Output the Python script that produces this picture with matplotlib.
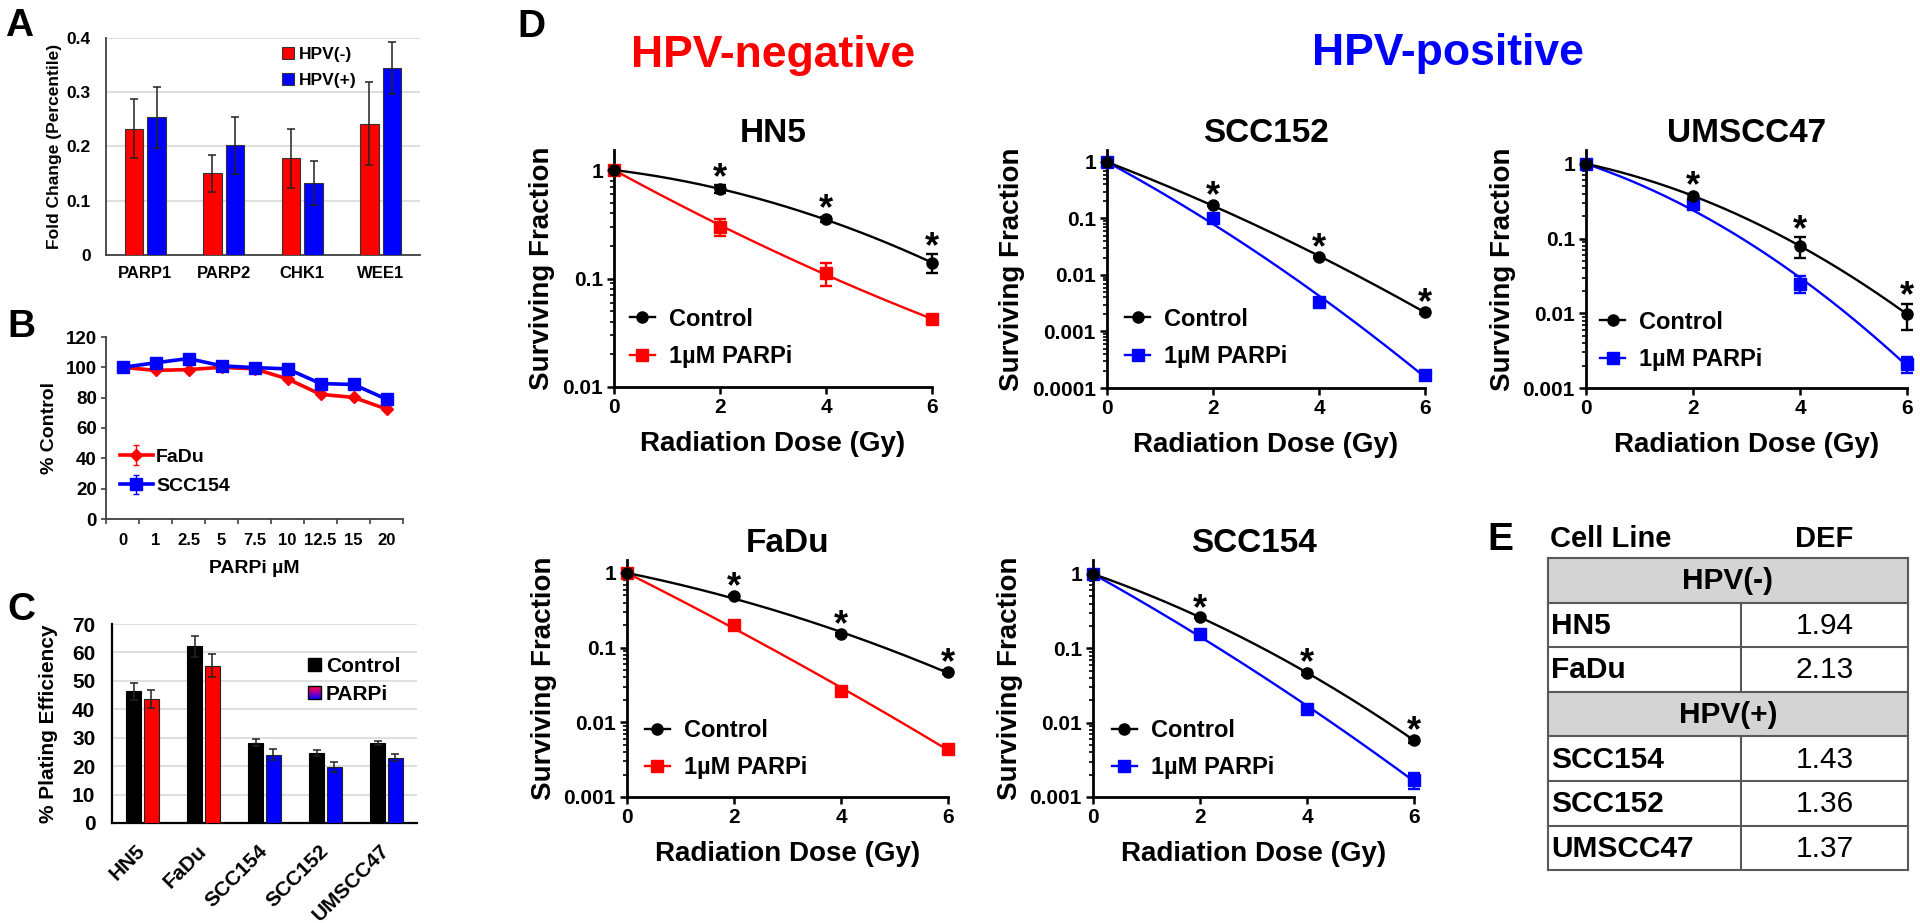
import numpy as np
import matplotlib
matplotlib.use("Agg")
import matplotlib.pyplot as plt
from matplotlib.patches import Rectangle, Patch
from matplotlib.legend_handler import HandlerBase
from matplotlib.lines import Line2D
from matplotlib.ticker import LogLocator, FuncFormatter, NullFormatter

plt.rcParams['font.family'] = ['Liberation Sans', 'DejaVu Sans']
plt.rcParams['font.weight'] = 'bold'
plt.rcParams['axes.labelweight'] = 'bold'

# ---------------- data ----------------
# Panel A
a_genes = ["PARP1", "PARP2", "CHK1", "WEE1"]
a_neg = [0.233, 0.151, 0.178, 0.242]
a_neg_err = [0.055, 0.034, 0.054, 0.077]
a_pos = [0.254, 0.202, 0.133, 0.345]
a_pos_err = [0.056, 0.052, 0.040, 0.048]

# Panel B
b_conc = ["0", "1", "2.5", "5", "7.5", "10", "12.5", "15", "20"]
b_fadu = [100, 98, 98.5, 100, 99, 92.4, 82.2, 80.2, 72.5]
b_fadu_err = [0.5, 1.0, 2.0, 1.0, 1.0, 1.0, 1.0, 1.0, 1.0]
b_scc154 = [100, 103, 105.8, 101, 99.8, 99.0, 89.3, 88.7, 79.0]
b_scc154_err = [0.5, 1.0, 1.0, 1.0, 1.0, 1.0, 1.0, 1.0, 1.0]

# Panel C
c_lines = ["HN5", "FaDu", "SCC154", "SCC152", "UMSCC47"]
c_ctrl = [46.3, 62.2, 28.3, 24.7, 28.1]
c_ctrl_err = [3.0, 3.7, 1.2, 1.0, 0.8]
c_parp = [43.5, 55.4, 24.0, 19.7, 23.0]
c_parp_err = [3.2, 4.0, 2.0, 1.6, 1.2]
c_hpv_neg = [True, True, False, False, False]

# Panel D (surviving fraction)
dose = [0, 2, 4, 6]
hn5_ctrl = [1.0, 0.667, 0.350, 0.140]
hn5_ctrl_err = [0.0, 0.055, 0.020, 0.028]
hn5_parp = [1.0, 0.300, 0.112, 0.042]
hn5_parp_err = [0.0, 0.055, 0.027, 0.002]
scc152_ctrl = [1.0, 0.174, 0.021, 0.0022]
scc152_ctrl_err = [0.0, 0.008, 0.001, 0.0002]
scc152_parp = [1.0, 0.104, 0.0033, 0.00017]
scc152_parp_err = [0.0, 0.005, 0.0003, 0.00003]
um47_ctrl = [1.0, 0.370, 0.080, 0.0097]
um47_ctrl_err = [0.0, 0.030, 0.025, 0.0038]
um47_parp = [1.0, 0.286, 0.025, 0.0021]
um47_parp_err = [0.0, 0.020, 0.0065, 0.0005]
fadu_ctrl = [1.0, 0.490, 0.150, 0.047]
fadu_ctrl_err = [0.0, 0.020, 0.008, 0.003]
fadu_parp = [1.0, 0.200, 0.0264, 0.0044]
fadu_parp_err = [0.0, 0.010, 0.0015, 0.0003]
scc154_ctrl = [1.0, 0.262, 0.0469, 0.0058]
scc154_ctrl_err = [0.0, 0.010, 0.003, 0.0004]
scc154_parp = [1.0, 0.157, 0.0154, 0.00168]
scc154_parp_err = [0.0, 0.010, 0.001, 0.0004]

# Panel E
e_groups = ["HPV(-)", "HPV(+)"]
e_neg_lines = ["HN5", "FaDu"]
e_neg_def = ["1.94", "2.13"]
e_pos_lines = ["SCC154", "SCC152", "UMSCC47"]
e_pos_def = ["1.43", "1.36", "1.37"]

RED = '#ff0000'
BLUE = '#0000ff'

W, H = 1920, 923
fig = plt.figure(figsize=(W / 100, H / 100), dpi=100)


def add_ax(l, t, r, b):
    return fig.add_axes([l / W, 1 - b / H, (r - l) / W, (b - t) / H])


ov = fig.add_axes([0, 0, 1, 1], zorder=-5)
ov.set_xlim(0, W)
ov.set_ylim(H, 0)
ov.axis('off')


class GradHandler(HandlerBase):
    def create_artists(self, legend, orig_handle, xdescent, ydescent,
                       width, height, fontsize, trans):
        n = 12
        top = np.array([1.0, 0.0, 0.3])
        bot = np.array([0.1, 0.0, 1.0])
        arts = []
        for i in range(n):
            t = i / (n - 1)
            c = (1 - t) * bot + t * top
            arts.append(Rectangle((-xdescent, -ydescent + i * height / n), width,
                                  height / n, facecolor=c, edgecolor='none',
                                  transform=trans))
        arts.append(Rectangle((-xdescent, -ydescent), width, height, fill=False,
                              edgecolor='black', lw=1.0, transform=trans))
        return arts


def style_bar_axes(ax):
    for s in ['top', 'right']:
        ax.spines[s].set_visible(False)
    for s in ['left', 'bottom']:
        ax.spines[s].set_color('#404040')
        ax.spines[s].set_linewidth(1.3)
    ax.yaxis.grid(True, color='#d9d9d9', lw=1.2)
    ax.set_axisbelow(True)


# ---------------- Panel A ----------------
axA = add_ax(106, 38, 420, 255)
xa = np.arange(len(a_genes))
ekw = dict(ecolor='#222222', elinewidth=1.1, capsize=3, capthick=1.1)
axA.bar(xa - 0.145, a_neg, 0.235, yerr=a_neg_err, color=RED, edgecolor='#333333',
        linewidth=0.8, error_kw=ekw, label='HPV(-)', zorder=3)
axA.bar(xa + 0.145, a_pos, 0.235, yerr=a_pos_err, color=BLUE, edgecolor='#333333',
        linewidth=0.8, error_kw=ekw, label='HPV(+)', zorder=3)
axA.set_xlim(-0.5, len(a_genes) - 0.5)
axA.set_ylim(0, 0.4)
axA.set_yticks([0, 0.1, 0.2, 0.3, 0.4])
axA.set_yticklabels(['0', '0.1', '0.2', '0.3', '0.4'])
axA.set_xticks(xa)
axA.set_xticklabels(a_genes)
style_bar_axes(axA)
axA.tick_params(axis='both', length=0, labelsize=12)
axA.tick_params(axis='y', labelsize=12.5, pad=11)
axA.tick_params(axis='x', pad=8)
axA.set_ylabel('Fold Change (Percentile)', fontsize=12.5)
axA.yaxis.set_label_coords(-0.14, 0.5)
axA.legend(loc='upper left', bbox_to_anchor=(0.555, 0.965), frameon=False, fontsize=12.5,
           handlelength=0.7, handleheight=0.7, handletextpad=0.25,
           labelspacing=0.6, borderaxespad=0, borderpad=0.1)

# ---------------- Panel B ----------------
axB = add_ax(106, 337, 403, 519)
xb = np.arange(len(b_conc))
axB.errorbar(xb, b_fadu, yerr=b_fadu_err, color=RED, marker='D', ms=6.5, lw=2.6,
             capsize=2, elinewidth=1, label='FaDu', zorder=3)
axB.errorbar(xb, b_scc154, yerr=b_scc154_err, color=BLUE, marker='s', ms=8.5, lw=2.6,
             capsize=2, elinewidth=1, label='SCC154', zorder=4)
axB.set_xlim(-0.5, len(b_conc) - 0.5)
axB.set_ylim(0, 120)
axB.set_yticks(np.arange(0, 121, 20))
axB.set_xticks(np.arange(-0.5, len(b_conc), 1.0))
axB.set_xticklabels([])
axB.set_xticks(xb, minor=True)
axB.set_xticklabels(b_conc, minor=True)
for s in ['top', 'right']:
    axB.spines[s].set_visible(False)
for s in ['left', 'bottom']:
    axB.spines[s].set_color('#404040')
    axB.spines[s].set_linewidth(1.3)
axB.tick_params(axis='both', which='major', direction='out', length=3.5, width=1.2,
                color='#404040', labelsize=13.5)
axB.tick_params(axis='y', pad=3)
axB.tick_params(axis='x', which='minor', length=0, labelsize=12, pad=10)
axB.set_ylabel('% Control', fontsize=14)
axB.yaxis.set_label_coords(-0.162, 0.5)
axB.set_xlabel('PARPi µM', fontsize=14, labelpad=9)
axB.legend(loc='upper left', bbox_to_anchor=(0.047, 0.39), frameon=False, fontsize=14,
           handlelength=1.7, handletextpad=0.15, labelspacing=0.62,
           borderaxespad=0, borderpad=0)

# ---------------- Panel C ----------------
axC = add_ax(112, 624, 417, 823)
xc = np.arange(len(c_lines))
pcols = [RED if n else BLUE for n in c_hpv_neg]
axC.bar(xc - 0.14, c_ctrl, 0.245, yerr=c_ctrl_err, color='black', edgecolor='black',
        linewidth=0.8, error_kw=ekw, zorder=3)
axC.bar(xc + 0.14, c_parp, 0.245, yerr=c_parp_err, color=pcols, edgecolor='#222222',
        linewidth=0.8, error_kw=ekw, zorder=3)
axC.set_xlim(-0.5, len(c_lines) - 0.5)
axC.set_ylim(0, 70)
axC.set_yticks(np.arange(0, 71, 10))
axC.set_xticks(xc)
axC.set_xticklabels(c_lines, rotation=45, ha='right', va='center',
                    rotation_mode='anchor')
style_bar_axes(axC)
axC.spines['left'].set_color('black')
axC.spines['bottom'].set_color('black')
axC.spines['left'].set_linewidth(1.6)
axC.spines['bottom'].set_linewidth(1.6)
axC.tick_params(axis='both', length=0, labelsize=15)
axC.tick_params(axis='y', pad=12)
axC.tick_params(axis='x', pad=18)
axC.set_ylabel('% Plating Efficiency', fontsize=15)
axC.yaxis.set_label_coords(-0.177, 0.5)
h_ctrl = Patch(facecolor='black', edgecolor='black', label='Control')
h_parp = Patch(facecolor='purple', edgecolor='black', label='PARPi')
axC.legend(handles=[h_ctrl, h_parp], handler_map={h_parp: GradHandler()},
           loc='upper left', bbox_to_anchor=(0.643, 0.835), frameon=False,
           fontsize=15, handlelength=0.6, handleheight=0.6, handletextpad=0.25,
           labelspacing=0.45, borderaxespad=0, borderpad=0)


# ---------------- Panel D ----------------
def lq_curve(d, v, xx):
    d = np.asarray(d, float)
    A = np.vstack([d, d ** 2]).T
    coef = np.linalg.lstsq(A, np.log(np.asarray(v, float)), rcond=None)[0]
    return np.exp(coef[0] * xx + coef[1] * xx ** 2)


def sf_panel(box, title, ctrl, cerr, parp, perr, col, ymin, ymax, leg_xy):
    ax = add_ax(*box)
    d = np.asarray(dose, float)
    xx = np.linspace(0, 6, 200)
    ax.plot(xx, lq_curve(dose, parp, xx), color=col, lw=1.7, zorder=2)
    ax.plot(xx, lq_curve(dose, ctrl, xx), color='black', lw=1.7, zorder=3)
    ax.errorbar(d, parp, yerr=perr, fmt='s', color=col, ms=8.5, capsize=4.5,
                elinewidth=1.7, capthick=1.7, clip_on=False, zorder=4)
    ax.errorbar(d, ctrl, yerr=cerr, fmt='o', color='black', ms=8, capsize=4.5,
                elinewidth=1.7, capthick=1.7, clip_on=False, zorder=5)
    for xi, yi, ei in zip(d[1:], ctrl[1:], cerr[1:]):
        ax.annotate('*', xy=(xi, yi + ei), xytext=(0, -2), textcoords='offset points',
                    ha='center', va='baseline', fontsize=26, fontweight='bold',
                    annotation_clip=False)
    ax.set_yscale('log')
    ax.set_xlim(0, 6)
    ax.set_ylim(ymin, ymax)
    ax.set_xticks([0, 2, 4, 6])
    ax.yaxis.set_major_locator(LogLocator(base=10, numticks=12))
    ax.yaxis.set_minor_locator(LogLocator(base=10, subs=np.arange(2, 10), numticks=30))
    ax.yaxis.set_major_formatter(FuncFormatter(lambda v, p: '%g' % v))
    ax.yaxis.set_minor_formatter(NullFormatter())
    for s in ['top', 'right']:
        ax.spines[s].set_visible(False)
    for s in ['left', 'bottom']:
        ax.spines[s].set_linewidth(2.0)
    ax.tick_params(axis='both', which='major', direction='out', length=5, width=1.8,
                   labelsize=15, pad=3)
    ax.tick_params(axis='y', which='minor', direction='out', length=2.6, width=1.2)
    ax.set_ylabel('Surviving Fraction', fontsize=20, labelpad=5)
    ax.set_xlabel('Radiation Dose (Gy)', fontsize=20, labelpad=10)
    ax.set_title(title, fontsize=24, fontweight='bold', pad=6)
    hc = Line2D([0], [0], color='black', marker='o', ms=8, lw=1.7)
    hp = Line2D([0], [0], color=col, marker='s', ms=8.5, lw=1.7)
    ax.legend([hc, hp], ['Control', '1µM PARPi'], loc='upper left',
              bbox_to_anchor=leg_xy, frameon=False, fontsize=17, handlelength=1.05,
              handletextpad=0.6, labelspacing=0.62, borderaxespad=0, borderpad=0)
    return ax


sf_panel((614, 150, 932, 387), 'HN5', hn5_ctrl, hn5_ctrl_err, hn5_parp, hn5_parp_err,
         RED, 0.01, 1.53, (0.05, 0.335))
sf_panel((1107, 150, 1425, 388), 'SCC152', scc152_ctrl, scc152_ctrl_err, scc152_parp,
         scc152_parp_err, BLUE, 1e-4, 1.63, (0.057, 0.338))
sf_panel((1586, 150, 1907, 388), 'UMSCC47', um47_ctrl, um47_ctrl_err, um47_parp,
         um47_parp_err, BLUE, 1e-3, 1.53, (0.044, 0.325))
sf_panel((627, 560, 948, 797), 'FaDu', fadu_ctrl, fadu_ctrl_err, fadu_parp,
         fadu_parp_err, RED, 1e-3, 1.49, (0.056, 0.33))
sf_panel((1093, 560, 1414, 797), 'SCC154', scc154_ctrl, scc154_ctrl_err, scc154_parp,
         scc154_parp_err, BLUE, 1e-3, 1.54, (0.059, 0.33))

# ---------------- headers & letters ----------------
ov.text(773, 67, 'HPV-negative', color=RED, fontsize=32, fontweight='bold',
        ha='center', va='baseline')
ov.text(1448, 65, 'HPV-positive', color=BLUE, fontsize=32, fontweight='bold',
        ha='center', va='baseline')
for lab, x, y in [('A', 5, 36), ('B', 7, 337), ('C', 7, 620), ('D', 517, 37),
                  ('E', 1487, 550)]:
    ov.text(x, y, lab, fontsize=28, fontweight='bold', ha='left', va='baseline')

# ---------------- Panel E table ----------------
tl, tr, tdiv = 1548, 1908, 1741
ttop, rh = 558, 44.6
tcx = (tl + tr) / 2
vcx = (tdiv + tr) / 2
ov.text(1550, 547, 'Cell Line', fontsize=21, fontweight='bold', ha='left', va='baseline')
ov.text(vcx, 547, 'DEF', fontsize=21, fontweight='bold', ha='center', va='baseline')
rows = [(e_groups[0], None, True)]
rows += [(n, v, False) for n, v in zip(e_neg_lines, e_neg_def)]
rows += [(e_groups[1], None, True)]
rows += [(n, v, False) for n, v in zip(e_pos_lines, e_pos_def)]
lc = '#595959'
for i, (name, val, is_head) in enumerate(rows):
    y0 = ttop + i * rh
    yc = y0 + rh / 2
    if is_head:
        ov.add_patch(Rectangle((tl, y0), tr - tl, rh, facecolor='#d4d4d4',
                               edgecolor='none', zorder=1))
        ov.text(tcx, yc + 1, name, fontsize=21.5, fontweight='bold', ha='center',
                va='center', zorder=3)
    else:
        ov.plot([tdiv, tdiv], [y0, y0 + rh], color=lc, lw=1.5, zorder=2)
        ov.text(1551, yc + 1, name, fontsize=21.5, fontweight='bold', ha='left',
                va='center', zorder=3)
        ov.text(vcx, yc + 1, val, fontsize=21.5, fontweight='normal', ha='center',
                va='center', zorder=3)
    ov.plot([tl, tr], [y0, y0], color=lc, lw=1.5, zorder=2)
yb = ttop + len(rows) * rh
ov.plot([tl, tr], [yb, yb], color=lc, lw=1.5, zorder=2)
ov.plot([tl, tl], [ttop, yb], color=lc, lw=1.5, zorder=2)
ov.plot([tr, tr], [ttop, yb], color=lc, lw=1.5, zorder=2)

fig.savefig('out.png', dpi=100, facecolor='white')
